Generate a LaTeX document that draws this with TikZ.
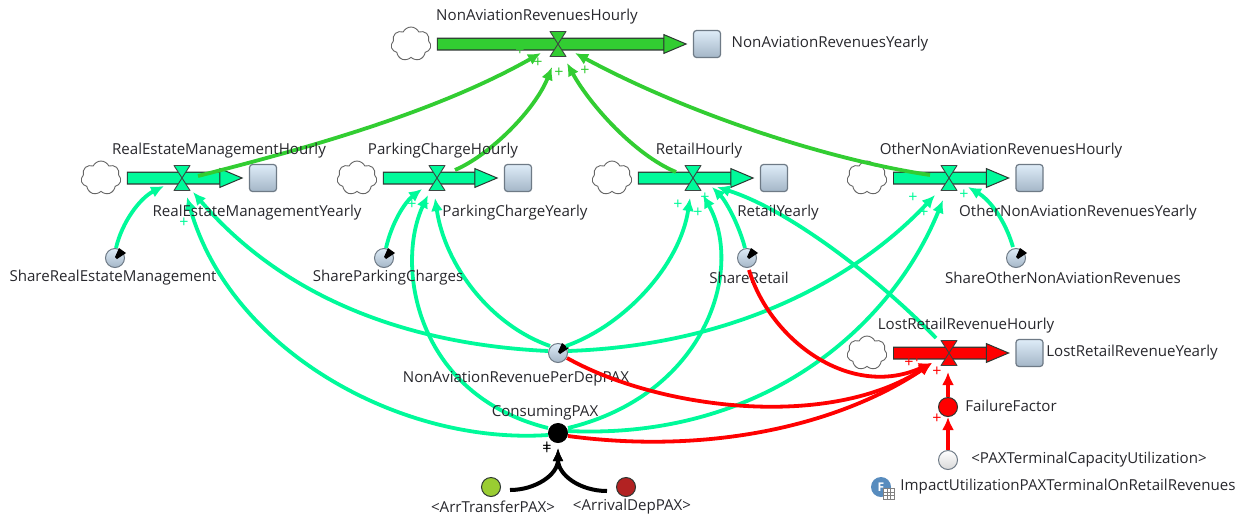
\documentclass[tikz,border=0pt]{standalone}
\usepackage{fontspec}
\setmainfont{Open Sans}
\usetikzlibrary{arrows.meta,shapes.symbols,shadings}
\definecolor{limeg}{RGB}{50,205,50}
\definecolor{springg}{RGB}{0,250,154}
\definecolor{redc}{RGB}{255,0,0}
\definecolor{yellowg}{RGB}{154,205,50}
\definecolor{firebr}{RGB}{178,34,34}
\definecolor{edgeg}{RGB}{110,122,134}
\definecolor{outl}{RGB}{45,55,50}
\definecolor{txt}{RGB}{40,40,45}
\definecolor{iconb}{RGB}{88,140,190}
\definecolor{stocktop}{RGB}{222,236,248}
\definecolor{stockbot}{RGB}{164,182,199}
\tikzset{
  lab/.style={inner sep=0pt,text=txt,yshift=-1.5pt,font=\fontsize{15.1}{17}\selectfont},
  plusm/.style={inner sep=0pt,font=\fontsize{16}{16}\selectfont},
  cloudn/.style={cloud,cloud puffs=7,cloud puff arc=130,aspect=1.15,draw=gray!80!black,line width=.9pt,fill=white,minimum width=40pt,minimum height=34pt,inner sep=0pt},
  stockn/.style={rectangle,rounded corners=3pt,draw=edgeg,line width=1.2pt,top color=stocktop,bottom color=stockbot,minimum size=27pt,inner sep=0pt},
  auxn/.style={circle,draw=edgeg,line width=1pt,minimum size=19pt,inner sep=0pt},
  dialn/.style={auxn,top color=stocktop,bottom color=stockbot},
  valven/.style={inner sep=0pt,minimum size=0pt},
  conn/.style={line width=3.8pt,-{Latex[length=13pt,width=12pt]}},
}
\newcommand{\flowrun}[3]{%
  \draw[line width=13pt,outl,shorten <=6pt,shorten >=24pt] (#1) -- (#2);
  \draw[line width=10.5pt,#3,shorten <=7pt,shorten >=5.5pt,-{Triangle[length=24pt,width=20pt,line width=1pt,color=outl,fill=#3]}] (#1) -- (#2);
}
\newcommand{\valvemark}[2]{%
  \draw[draw=outl!80!gray,line width=.9pt,fill=#2,line join=round] ([shift={(-8,-12.5)}]#1.center) -- ([shift={(8,-12.5)}]#1.center) -- ([shift={(-8,12.5)}]#1.center) -- ([shift={(8,12.5)}]#1.center) -- cycle;
}
\newcommand{\needle}[1]{%
  \fill[black] ([shift={(0,-1)}]#1.center) -- ([shift={(4,-10)}]#1.center) -- ([shift={(11,-5)}]#1.center) -- ([shift={(2,1)}]#1.center) -- cycle;
}
\begin{document}
\begin{tikzpicture}[x=1pt,y=-1pt]
\useasboundingbox[fill=white] (0,0) rectangle (1249,517);
% clouds
\node[cloudn] (c0) at (411,44) {};
\node[cloudn] (c1) at (101,178) {};
\node[cloudn] (c2) at (357,178) {};
\node[cloudn] (c3) at (612,178) {};
\node[cloudn] (c4) at (867,178) {};
\node[cloudn] (c5) at (867,353) {};
% stocks
\node[stockn] (s0) at (707,44) {};
\node[stockn] (s1) at (263,178) {};
\node[stockn] (s2) at (518,178) {};
\node[stockn] (s3) at (774,178) {};
\node[stockn] (s4) at (1029.5,178) {};
\node[stockn] (s5) at (1029.5,353) {};
% valves
\node[valven] (v0) at (558,44) {};
\node[valven] (v1) at (182,178) {};
\node[valven] (v2) at (437,178) {};
\node[valven] (v3) at (693,178) {};
\node[valven] (v4) at (949,178) {};
\node[valven] (v5) at (949,353) {};
% flows
\flowrun{c0}{s0}{limeg}
\flowrun{c1}{s1}{springg}
\flowrun{c2}{s2}{springg}
\flowrun{c3}{s3}{springg}
\flowrun{c4}{s4}{springg}
\flowrun{c5}{s5}{redc}
\valvemark{v0}{limeg}
\valvemark{v1}{springg}
\valvemark{v2}{springg}
\valvemark{v3}{springg}
\valvemark{v4}{springg}
\valvemark{v5}{redc}
% auxiliaries
\node[dialn] (d1) at (115,258) {};
\node[dialn] (d2) at (384,258) {};
\node[dialn] (d3) at (747,258) {};
\node[dialn] (d4) at (1016,258) {};
\node[dialn] (rev) at (558,353) {};
\node[auxn,fill=black,draw=black] (con) at (558,433) {};
\node[auxn,fill=redc,draw=outl] (ff) at (948,407) {};
\node[auxn,top color=white,bottom color=gray!30!white] (pax) at (948,460) {};
\node[auxn,fill=yellowg,draw=outl] (arr) at (491,487) {};
\node[auxn,fill=firebr,draw=outl] (dep) at (626,487) {};
\needle{d1}\needle{d2}\needle{d3}\needle{d4}\needle{rev}
% spring connectors
\begin{scope}[conn,springg]
\draw ([shift={(1,-10)}]d1.center) .. controls (122,222) and (140,198) .. ([shift={(-18,8)}]v1.center);
\draw ([shift={(-10,-2)}]rev.center) .. controls (420,345) and (290,305) .. ([shift={(11,14)}]v1.center);
\draw ([shift={(-10,2)}]con.center) .. controls (400,445) and (230,350) .. ([shift={(5,19)}]v1.center);
\draw ([shift={(2,-10)}]d2.center) .. controls (392,222) and (405,202) .. ([shift={(-15,11)}]v2.center);
\draw ([shift={(-10,-5)}]con.center) .. controls (415,395) and (395,265) .. ([shift={(-9,17)}]v2.center);
\draw ([shift={(-8,-7)}]rev.center) .. controls (490,325) and (445,265) .. ([shift={(-2,20)}]v2.center);
\draw ([shift={(-2,-10)}]d3.center) .. controls (738,222) and (725,200) .. ([shift={(19,9)}]v3.center);
\draw ([shift={(8,-7)}]rev.center) .. controls (625,325) and (680,265) .. ([shift={(-3,20)}]v3.center);
\draw ([shift={(10,-5)}]con.center) .. controls (705,395) and (745,270) .. ([shift={(10,17)}]v3.center);
\draw ([shift={(-13,-15)}]v5.center) .. controls (880,280) and (790,210) .. ([shift={(24,9)}]v3.center);
\draw ([shift={(10,-2)}]rev.center) .. controls (740,345) and (860,275) .. ([shift={(-14,17)}]v4.center);
\draw ([shift={(10,-2)}]con.center) .. controls (760,440) and (890,330) .. ([shift={(-6,22)}]v4.center);
\draw ([shift={(-3,-11)}]d4.center) .. controls (1005,220) and (990,200) .. ([shift={(19,9)}]v4.center);
\end{scope}
% lime connectors
\begin{scope}[conn,limeg]
\draw ([shift={(16,-2)}]v1.center) .. controls (320,145) and (440,110) .. ([shift={(-17,9)}]v0.center);
\draw ([shift={(18,-8)}]v2.center) .. controls (490,155) and (535,110) .. ([shift={(-6,23)}]v0.center);
\draw ([shift={(-17,-6)}]v3.center) .. controls (635,155) and (590,105) .. ([shift={(9,19)}]v0.center);
\draw ([shift={(-19,-3)}]v4.center) .. controls (830,160) and (690,115) .. ([shift={(17,9)}]v0.center);
\end{scope}
% labels
\node[lab] (t0) at (537,15) {NonAviationRevenuesHourly};
\node[lab] (t1) at (830,42) {NonAviationRevenuesYearly};
\node[lab] (t2) at (219,149) {RealEstateManagementHourly};
\node[lab] (t3) at (257,211) {RealEstateManagementYearly};
\node[lab] (t4) at (443,149) {ParkingChargeHourly};
\node[lab] (t5) at (515,211) {ParkingChargeYearly};
\node[lab] (t6) at (699,149) {RetailHourly};
\node[lab] (t7) at (778,211) {RetailYearly};
\node[lab] (t8) at (1001,149) {OtherNonAviationRevenuesHourly};
\node[lab] (t9) at (1078,211) {OtherNonAviationRevenuesYearly};
\node[lab] (t10) at (113,276) {ShareRealEstateManagement};
\node[lab] (t11) at (388,276) {ShareParkingCharges};
\node[lab] (t12) at (749,276) {ShareRetail};
\node[lab] (t13) at (1063,276) {ShareOtherNonAviationRevenues};
\node[lab] (t14) at (966,324) {LostRetailRevenueHourly};
\node[lab] (t15) at (1132,351) {LostRetailRevenueYearly};
\node[lab] (t16) at (516,377) {NonAviationRevenuePerDepPAX};
\node[lab] (t17) at (545,411) {ConsumingPAX};
\node[lab] (t18) at (1011,404) {FailureFactor};
\node[lab] (t19) at (1089,458) {<PAXTerminalCapacityUtilization>};
\node[lab] (t20) at (1068,485) {ImpactUtilizationPAXTerminalOnRetailRevenues};
\node[lab] (t21) at (493,505) {<ArrTransferPAX>};
\node[lab] (t22) at (632,505) {<ArrivalDepPAX>};
% red connectors
\begin{scope}[conn,redc]
\draw ([shift={(2,12)}]d3.center) .. controls (770,340) and (850,400) .. ([shift={(-17,10)}]v5.center);
\draw ([shift={(9,5)}]rev.center) .. controls (660,410) and (830,430) .. ([shift={(-17,10)}]v5.center);
\draw ([shift={(10,3)}]con.center) .. controls (710,455) and (840,425) .. ([shift={(-17,10)}]v5.center);
\draw (ff.north) -- ([shift={(-1,19)}]v5.center);
\draw (pax.north) -- ([shift={(0,10)}]ff.center);
\end{scope}
% black connectors
\begin{scope}[line width=4pt,black,-{Latex[length=13pt,width=11pt]}]
\draw ([shift={(19,3)}]arr.center) .. controls (535,490) and (558,475) .. ([shift={(0,15)}]con.center);
\draw ([shift={(-19,4)}]dep.center) .. controls (580,491) and (558,475) .. ([shift={(0,15)}]con.center);
\end{scope}
% plus marks
\node[plusm,text=limeg] (p1) at (520,51) {+};
\node[plusm,text=limeg] (p2) at (538,63) {+};
\node[plusm,text=limeg] (p3) at (559,73) {+};
\node[plusm,text=limeg] (p4) at (585,71) {+};
\node[plusm,text=springg] (p5) at (184,223) {+};
\node[plusm,text=springg] (p6) at (412,205) {+};
\node[plusm,text=springg] (p7) at (425,205) {+};
\node[plusm,text=springg] (p8) at (678,205) {+};
\node[plusm,text=springg] (p9) at (698,213) {+};
\node[plusm,text=springg] (p10) at (705,198) {+};
\node[plusm,text=springg] (p11) at (913,198) {+};
\node[plusm,text=springg] (p12) at (924,213) {+};
\node[plusm,text=springg] (p13) at (964,195) {+};
\node[plusm,text=redc] (p14) at (909,363) {+};
\node[plusm,text=redc] (p15) at (917,359) {+};
\node[plusm,text=redc] (p16) at (937,372) {+};
\node[plusm,text=redc] (p17) at (937,419) {+};
\node[plusm,text=black] (p18) at (547,447) {+};
\node[plusm,text=black] (p19) at (547,450) {+};
% function icon
\node[circle,fill=iconb,minimum size=20pt,inner sep=0pt,text=white,font=\fontsize{12}{12}\bfseries\selectfont] (ficon) at (881,487) {F};
\draw[draw=gray,fill=white,line width=.7pt] ([shift={(2,1)}]ficon.center) rectangle ([shift={(13,12)}]ficon.center);
\draw[gray,line width=.5pt] ([shift={(2,5)}]ficon.center) -- ([shift={(13,5)}]ficon.center);
\draw[gray,line width=.5pt] ([shift={(2,8.5)}]ficon.center) -- ([shift={(13,8.5)}]ficon.center);
\draw[gray,line width=.5pt] ([shift={(6,1)}]ficon.center) -- ([shift={(6,12)}]ficon.center);
\draw[gray,line width=.5pt] ([shift={(9.5,1)}]ficon.center) -- ([shift={(9.5,12)}]ficon.center);
\end{tikzpicture}
\end{document}
